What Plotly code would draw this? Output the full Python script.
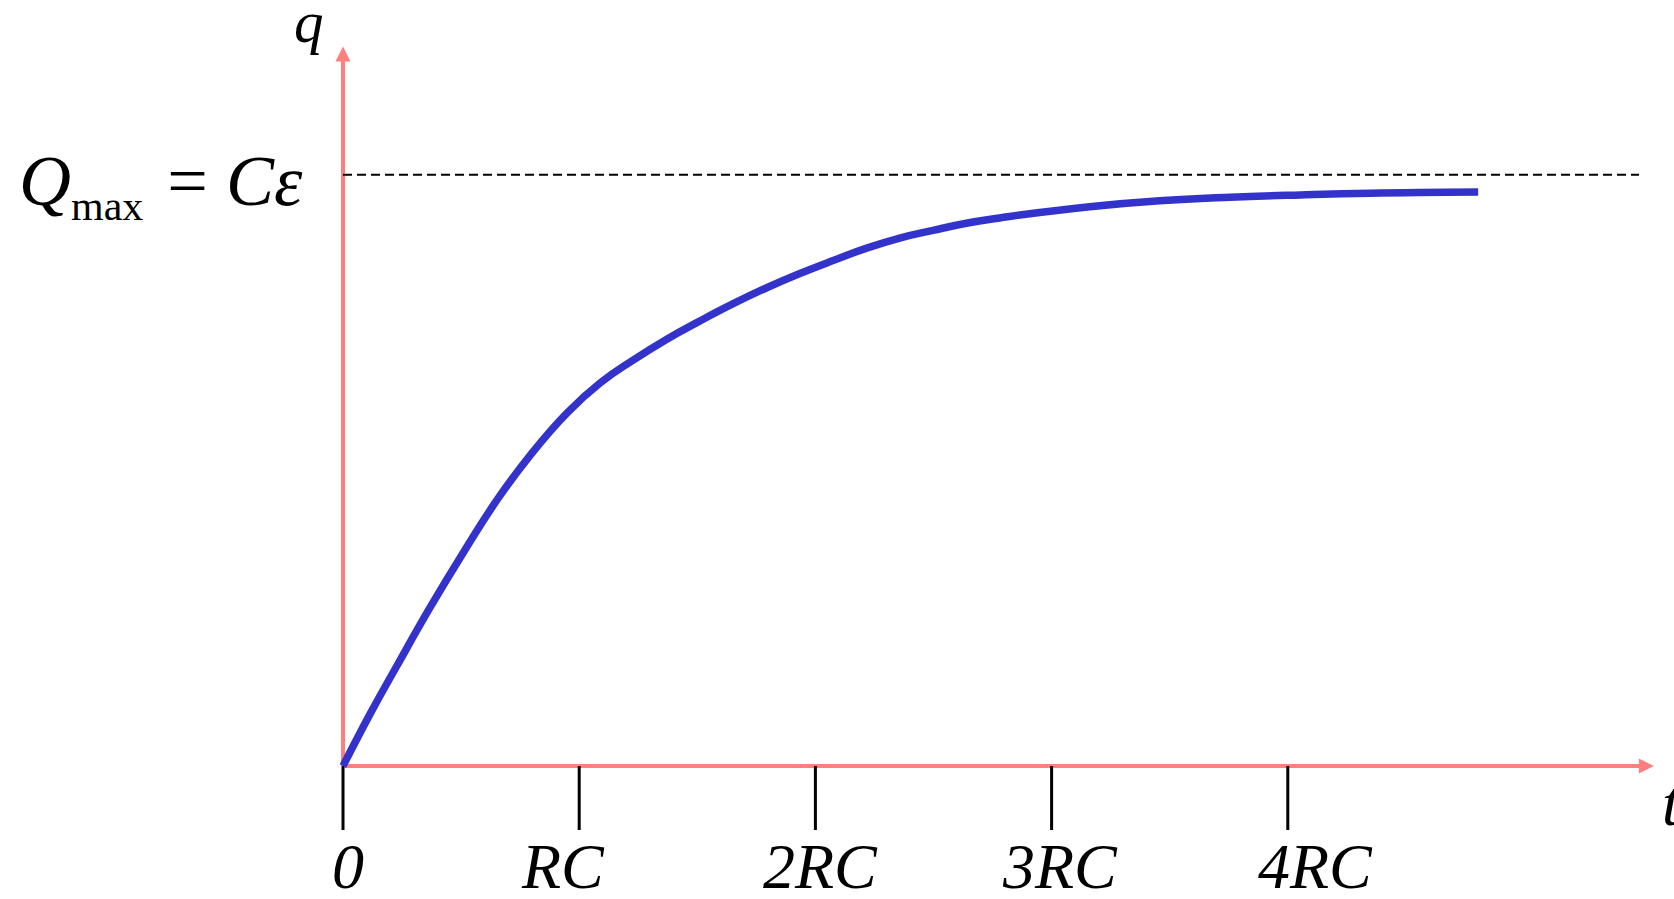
import plotly.graph_objects as go

# ---- data (time in units of RC, charge as fraction of Q_max) ----
t_rc = [0.0, 0.116, 0.229, 0.370, 0.511, 0.652, 0.793, 0.948, 1.089, 1.230,
        1.371, 1.512, 1.652, 1.794, 1.934, 2.075, 2.217, 2.357, 2.498, 2.639,
        2.780, 2.866, 3.161, 3.457, 3.755, 4.053, 4.349, 4.806]
q_frac = [0.0, 0.089, 0.170, 0.269, 0.362, 0.450, 0.526, 0.597, 0.648, 0.687,
          0.722, 0.753, 0.782, 0.809, 0.833, 0.855, 0.876, 0.893, 0.906, 0.918,
          0.927, 0.932, 0.946, 0.956, 0.962, 0.966, 0.969, 0.971]

tick_vals = [0, 1, 2, 3, 4]
tick_text = ["0", "RC", "2RC", "3RC", "4RC"]
tick_label_dx = [5, -16, 5, 8, 28]   # pixel nudges of the labels

q_max_level = 1.0
x_axis_end = 5.55
y_axis_end = 1.217
dash_end = 5.487

PINK = "#FF7F7F"
BLUE = "#3333CC"
FONT = "Liberation Serif"

fig = go.Figure()

fig.add_trace(go.Scatter(
    x=t_rc, y=q_frac, mode="lines",
    line=dict(color=BLUE, width=7.5, shape="spline", smoothing=1.3),
    hoverinfo="skip", showlegend=False,
))

shapes = []
# axes
shapes.append(dict(type="line", xref="x", yref="y", x0=0, y0=0, x1=x_axis_end - 0.02, y1=0,
                   line=dict(color=PINK, width=4), layer="below"))
shapes.append(dict(type="line", xref="x", yref="y", x0=0, y0=0, x1=0, y1=y_axis_end - 0.02,
                   line=dict(color=PINK, width=4), layer="below"))
# dashed Q_max line
shapes.append(dict(type="line", xref="x", yref="y", x0=0, y0=q_max_level, x1=dash_end, y1=q_max_level,
                   line=dict(color="black", width=2, dash="9px,5px"), layer="below"))
# tick marks
for tv in tick_vals:
    shapes.append(dict(type="line", xref="x", yref="y", x0=tv, y0=0, x1=tv, y1=-0.1083,
                       line=dict(color="black", width=3), layer="below"))

annotations = []
# arrowheads
annotations.append(dict(x=x_axis_end, y=0, ax=x_axis_end - 0.15, ay=0, xref="x", yref="y",
                        axref="x", ayref="y", text="", showarrow=True, arrowhead=2,
                        arrowsize=0.75, arrowwidth=4, arrowcolor=PINK))
annotations.append(dict(x=0, y=y_axis_end, ax=0, ay=y_axis_end - 0.06, xref="x", yref="y",
                        axref="x", ayref="y", text="", showarrow=True, arrowhead=2,
                        arrowsize=0.75, arrowwidth=4, arrowcolor=PINK))
# tick labels
for tv, tt, dx in zip(tick_vals, tick_text, tick_label_dx):
    annotations.append(dict(x=tv, y=-0.1742, xref="x", yref="y", text="<i>%s</i>" % tt,
                            showarrow=False, xanchor="center", yanchor="middle", xshift=dx,
                            yshift=2, borderpad=0,
                            font=dict(family=FONT, size=64, color="black")))
# axis names
annotations.append(dict(x=-0.146, y=1.25, xref="x", yref="y", text="<i>q</i>", showarrow=False,
                        xanchor="center", yanchor="middle", yshift=5,
                        font=dict(family=FONT, size=59, color="black")))
annotations.append(dict(x=5.627, y=-0.0626, xref="x", yref="y", text="<i>t</i>", showarrow=False,
                        xanchor="center", yanchor="middle",
                        font=dict(family=FONT, size=64, color="black")))
# Q_max label
annotations.append(dict(x=-0.161, y=q_max_level, xref="x", yref="y",
                        text="<i>Q</i><sub><span style='font-size:42px'>max</span></sub>&#8202; = <i>Cε</i>",
                        showarrow=False, xanchor="right", yanchor="middle", yshift=-10,
                        font=dict(family=FONT, size=72, color="black")))

fig.update_layout(
    width=1674, height=899,
    margin=dict(l=0, r=0, t=0, b=0),
    paper_bgcolor="white", plot_bgcolor="white",
    xaxis=dict(visible=False, range=[-1.4522, 5.6351], fixedrange=True),
    yaxis=dict(visible=False, range=[-0.22497, 1.2957], fixedrange=True),
    shapes=shapes, annotations=annotations, showlegend=False,
)

fig.write_html("out.html", config={"displayModeBar": False},
               post_script="document.body.style.margin='0';document.body.style.overflow='hidden';")
